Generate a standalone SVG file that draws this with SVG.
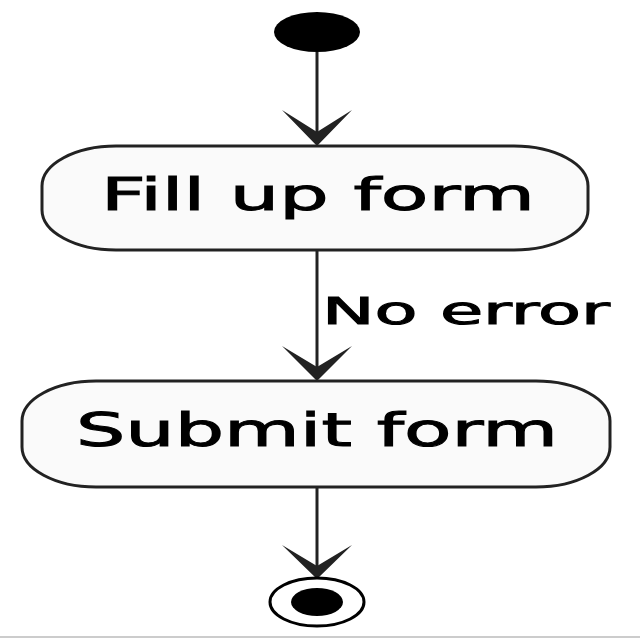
<svg xmlns="http://www.w3.org/2000/svg" width="640" height="640" viewBox="0 0 640 640">
<style>
.node{fill:#fafafa;stroke:#222;stroke-width:3}
.lbl{font-family:"DejaVu Sans",sans-serif;fill:#000;stroke:#000;stroke-width:1}
.edge{stroke:#222;stroke-width:3;fill:none}
.head{fill:#222}
</style>
<rect width="640" height="640" fill="#fff"/>
<line x1="0" y1="637" x2="640" y2="637" stroke="#ccc" stroke-width="2"/>
<g id="start"><ellipse cx="317" cy="32" rx="43" ry="20" fill="#000"/></g>
<g id="connectors">
<line class="edge" x1="317" y1="52" x2="317" y2="140"/>
<polygon class="head" points="282,110 317,146 352,110 317,132"/>
<line class="edge" x1="317" y1="250" x2="317" y2="375"/>
<polygon class="head" points="282,346 317,381 352,346 317,367"/>
<text class="lbl" x="322" y="324" font-size="37" textLength="288" lengthAdjust="spacingAndGlyphs">No error</text>
<line class="edge" x1="317" y1="487" x2="317" y2="572"/>
<polygon class="head" points="282,545 317,579 352,545 317,566"/>
</g>
<g id="fill">
<rect class="node" x="42" y="146" width="546" height="104" rx="74" ry="40"/>
<text class="lbl" x="101" y="210" font-size="44" textLength="434" lengthAdjust="spacingAndGlyphs">Fill up form</text>
</g>
<g id="submit">
<rect class="node" x="22" y="381" width="588" height="106" rx="74" ry="40"/>
<text class="lbl" x="76" y="446" font-size="46" textLength="482" lengthAdjust="spacingAndGlyphs">Submit form</text>
</g>
<g id="end">
<ellipse cx="317" cy="602" rx="47" ry="24" fill="#fff" stroke="#000" stroke-width="3"/>
<ellipse cx="317" cy="602" rx="26" ry="14" fill="#000"/>
</g>
</svg>
